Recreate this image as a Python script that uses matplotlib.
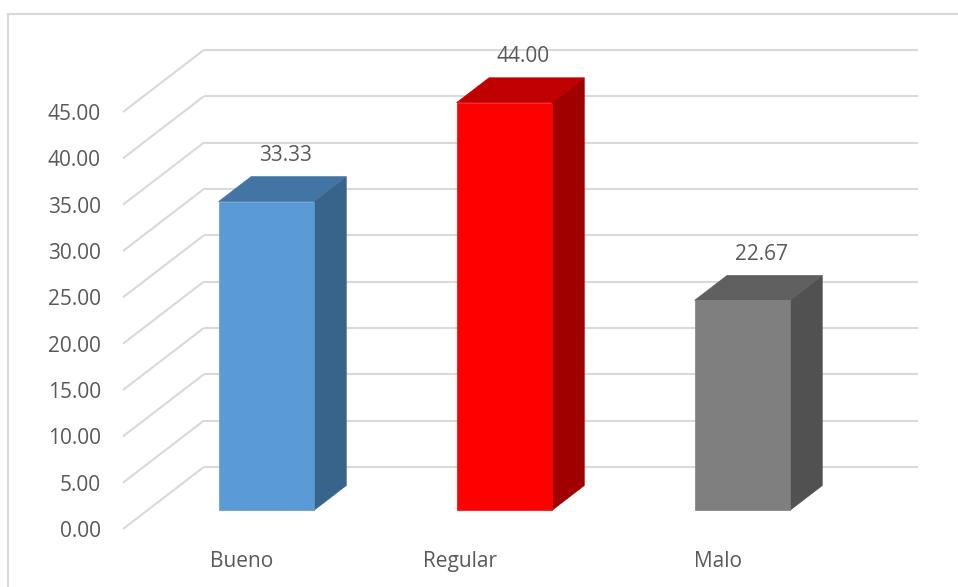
import matplotlib
matplotlib.use("Agg")
import matplotlib.pyplot as plt
from matplotlib.patches import Polygon
from matplotlib.transforms import ScaledTranslation

# ---------------- DATA ----------------
categorias = ["Bueno", "Regular", "Malo"]
valores = [33.33, 44.00, 22.67]
y_ticks = [0, 5, 10, 15, 20, 25, 30, 35, 40, 45]

# colores: frente, tapa, lateral
colores = [
    ("#5B9BD5", "#4275A3", "#38638A"),
    ("#FF0000", "#C00000", "#A00000"),
    ("#7F7F7F", "#606060", "#515151"),
]

# ---------------- ESTILO ----------------
plt.rcParams["font.family"] = ["Open Sans", "DejaVu Sans"]
TXT = "#595959"
GRID = "#D9D9D9"
FS = 15

# profundidad del "piso" 3D en unidades de datos
DX = 0.34   # categorias
DY = 6.7    # unidades del eje y
BAR_W = 0.4
Z0, Z1 = 0.3, 0.7   # posicion de la barra dentro de la profundidad

W, H = 958, 587
fig = plt.figure(figsize=(W / 100, H / 100), dpi=100)
ax = fig.add_axes([123 / W, (H - 529) / H, 714 / W, (529 - 112) / H])
ax.set_xlim(-0.5, 2.5)
ax.set_ylim(0, 45)
for s in ax.spines.values():
    s.set_visible(False)
ax.patch.set_alpha(0)

# lineas de cuadricula: diagonal (pared lateral) + pared del fondo
x_left = -0.5
x_right = len(categorias) - 0.5
for v in y_ticks:
    ax.plot([x_left, x_left + DX], [v, v + DY], color=GRID, lw=1.5,
            clip_on=False, zorder=1, solid_capstyle="butt")
    ax.plot([x_left + DX, x_right + DX], [v + DY, v + DY], color=GRID, lw=1.5,
            clip_on=False, zorder=1, solid_capstyle="butt")

# barras 3D
ddx = (Z1 - Z0) * DX
ddy = (Z1 - Z0) * DY
for i, (v, (c_front, c_top, c_side)) in enumerate(zip(valores, colores)):
    x0 = i - BAR_W / 2 + Z0 * DX
    x1 = i + BAR_W / 2 + Z0 * DX
    y0 = Z0 * DY
    y1 = v + Z0 * DY
    front = Polygon([(x0, y0), (x1, y0), (x1, y1), (x0, y1)], closed=True,
                    facecolor=c_front, edgecolor=c_front, lw=0.5)
    top = Polygon([(x0, y1), (x1, y1), (x1 + ddx, y1 + ddy), (x0 + ddx, y1 + ddy)],
                  closed=True, facecolor=c_top, edgecolor=c_top, lw=0.5)
    side = Polygon([(x1, y0), (x1 + ddx, y0 + ddy), (x1 + ddx, y1 + ddy), (x1, y1)],
                   closed=True, facecolor=c_side, edgecolor=c_side, lw=0.5)
    for p in (side, top, front):
        p.set_clip_on(False)
        p.set_zorder(3)
        ax.add_patch(p)
    ax.text(i + Z0 * DX + 0.08, y1 + ddy + 2.3, f"{v:.2f}", ha="center", va="center",
            fontsize=FS, color=TXT, zorder=4)

# ejes
ax.set_yticks(y_ticks)
ax.set_yticklabels([f"{t:.2f}" for t in y_ticks])
ax.set_xticks(range(len(categorias)))
ax.set_xticklabels(categorias)
ax.tick_params(axis="y", length=0, pad=16, labelsize=FS, labelcolor=TXT)
ax.tick_params(axis="x", length=0, pad=16, labelsize=FS, labelcolor=TXT)

# la etiqueta central queda un poco corrida a la izquierda
lbl = ax.get_xticklabels()[1]
lbl.set_transform(lbl.get_transform() + ScaledTranslation(-0.2, 0, fig.dpi_scale_trans))

# borde del area del grafico
yb = 1 - 14 / H
xb = 8 / W
fig.add_artist(plt.Line2D([xb, 1], [yb, yb], transform=fig.transFigure, color=GRID, lw=1.5))
fig.add_artist(plt.Line2D([xb, xb], [0, yb], transform=fig.transFigure, color=GRID, lw=1.5))

fig.savefig("out.png", dpi=100)
